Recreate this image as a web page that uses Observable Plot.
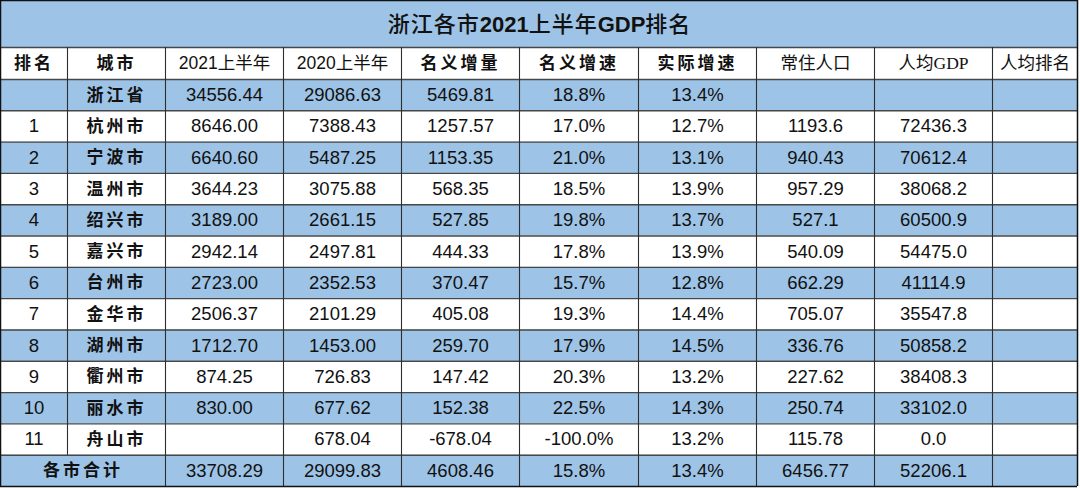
<!DOCTYPE html>
<html><head><meta charset="utf-8">
<script src="https://cdn.jsdelivr.net/npm/d3@7"></script>
<script src="https://cdn.jsdelivr.net/npm/@observablehq/plot@0.6"></script>
<style>body{margin:0;background:#fff;} #chart svg{display:block;}</style>
</head><body><div id="chart"></div>
<script>
// ---------- data ----------
const title = "浙江各市2021上半年GDP排名";
const titleParts = [["浙江各市", false], ["2021", true], ["上半年", false], ["GDP", true], ["排名", false]];
const headers = ["排名","城市","2021上半年","2020上半年","名义增量","名义增速","实际增速","常住人口","人均GDP","人均排名"];
const cities = ["杭州市","宁波市","温州市","绍兴市","嘉兴市","台州市","金华市","湖州市","衢州市","丽水市","舟山市"];
const gdp2021 = [8646.00, 6640.60, 3644.23, 3189.00, 2942.14, 2723.00, 2506.37, 1712.70, 874.25, 830.00, null];
const gdp2020 = [7388.43, 5487.25, 3075.88, 2661.15, 2497.81, 2352.53, 2101.29, 1453.00, 726.83, 677.62, 678.04];
const nominalIncrease = [1257.57, 1153.35, 568.35, 527.85, 444.33, 370.47, 405.08, 259.70, 147.42, 152.38, -678.04];
const nominalGrowth = [17.0, 21.0, 18.5, 19.8, 17.8, 15.7, 19.3, 17.9, 20.3, 22.5, -100.0];
const realGrowth = [12.7, 13.1, 13.9, 13.7, 13.9, 12.8, 14.4, 14.5, 13.2, 14.3, 13.2];
const population = [1193.6, 940.43, 957.29, 527.1, 540.09, 662.29, 705.07, 336.76, 227.62, 250.74, 115.78];
const gdpPerCapita = [72436.3, 70612.4, 38068.2, 60500.9, 54475.0, 41114.9, 35547.8, 50858.2, 38408.3, 33102.0, 0.0];
const provinceName = "浙江省";
const provinceValues = [34556.44, 29086.63, 5469.81, 18.8, 13.4, null, null];
const totalName = "各市合计";
const totalValues = [33708.29, 29099.83, 4608.46, 15.8, 13.4, 6456.77, 52206.1];

// ---------- layout (scales) ----------
const colIdx = d3.range(11);
const colEdges = [0, 67, 165, 283, 401, 519, 638, 756, 874, 992, 1077];
const rowIdx = [0, 1, 2, 15];
const rowEdges = [0, 47, 79, 486];
const xs = d3.scaleLinear(colIdx, colEdges);
const BLUE = "#9dc3e6";

const f2 = v => v == null ? "" : v.toFixed(2);
const f1 = v => v == null ? "" : v.toFixed(1);
const pct = v => v == null ? "" : v.toFixed(1) + "%";
const plain = v => v == null ? "" : String(v);
const fmts = [f2, f2, f2, pct, pct, plain, f1];

const cells = [];
const boldHdr = new Set(["排名","城市","名义增量","名义增速","实际增速"]);
const serifHdr = new Set(["常住人口","人均GDP","人均排名"]);
headers.forEach((h, i) => cells.push({col: i + 0.5, row: 1.5, text: h,
  kind: boldHdr.has(h) ? "cjk" : serifHdr.has(h) ? "serif" : "light"}));
// province row
cells.push({col: 1.5, row: 2.5, text: provinceName, kind: "cjk"});
provinceValues.forEach((v, j) => cells.push({col: j + 2.5, row: 2.5, text: fmts[j](v), kind: "num"}));
// cities
cities.forEach((c, i) => {
  const r = 3.5 + i;
  cells.push({col: 0.5, row: r, text: String(i + 1), kind: "num"});
  cells.push({col: 1.5, row: r, text: c, kind: "cjk"});
  const vals = [gdp2021[i], gdp2020[i], nominalIncrease[i], nominalGrowth[i], realGrowth[i], population[i], gdpPerCapita[i]];
  vals.forEach((v, j) => cells.push({col: j + 2.5, row: r, text: fmts[j](v), kind: "num"}));
});
// total row (merged first two columns)
const totalRow = 3.5 + cities.length;
cells.push({col: xs.invert((xs(0) + xs(2)) / 2), row: totalRow, text: totalName, kind: "cjk"});
totalValues.forEach((v, j) => cells.push({col: j + 2.5, row: totalRow, text: fmts[j](v), kind: "num"}));

// shaded rows: title, province row, and alternating rows
const shaded = [0, ...d3.range(2, 15, 2)];
// grid lines
const hLines = d3.range(1, 15);
const vLines = d3.range(1, 10).map(c => ({x: c, y1: 1, y2: c === 1 ? 14 : 15}));

const chart = Plot.plot({
  width: 1080, height: 488,
  marginTop: 0, marginRight: 0, marginBottom: 0, marginLeft: 0,
  x: {type: "linear", domain: colIdx, range: colEdges, axis: null},
  y: {type: "linear", domain: rowIdx, range: rowEdges, axis: null},
  style: {background: "#fff", overflow: "visible"},
  marks: [
    Plot.rect(shaded, {x1: 0, x2: 10, y1: d => d, y2: d => d + 1, fill: BLUE, inset: 0}),
    Plot.ruleY(hLines, {y: d => d, x1: 0, x2: 10, stroke: "#474747", strokeWidth: 1.4}),
    Plot.ruleX(vLines, {x: "x", y1: "y1", y2: "y2", stroke: "#2e2e2e", strokeWidth: 1.1}),
    Plot.ruleX([0, 10], {x: d => d, y1: 0, y2: 15, stroke: "#111", strokeWidth: 1.5}),
    Plot.ruleY([0, 15], {y: d => d, x1: 0, x2: 10, stroke: "#111", strokeWidth: 1.5}),
    Plot.text(cells.filter(d => d.kind === "num"), {x: "col", y: "row", text: "text",
      fontFamily: "'Liberation Sans', Arial, sans-serif", fontSize: 18.5, fill: "#111"}),
    Plot.text(cells.filter(d => d.kind === "cjk"), {x: "col", y: "row", text: "text",
      fontFamily: "'Noto Sans CJK SC', sans-serif", fontWeight: "bold", fontSize: 17, fill: "#111"}),
    Plot.text(cells.filter(d => d.kind === "light"), {x: "col", y: "row", text: "text",
      fontFamily: "'Liberation Sans', 'Noto Sans CJK SC', sans-serif", fontSize: 17.5, fill: "#111"}),
    Plot.text(cells.filter(d => d.kind === "serif"), {x: "col", y: "row", text: "text",
      fontFamily: "'Liberation Serif', 'Noto Sans CJK SC', serif", fontSize: 17.5, fill: "#111"}),
    Plot.text([title], {x: xs.invert(539), y: 0.52, text: d => d,
      fontFamily: "'Noto Sans CJK SC', sans-serif", fontSize: 22, fontWeight: 500, fill: "#111"})
  ]
});
document.getElementById("chart").appendChild(chart);

// letter spacing for bold CJK cells
d3.select(chart).selectAll("g[font-weight='bold']").attr("letter-spacing", "3px");
// title: mixed bold Latin / regular CJK segments
d3.select(chart).selectAll("text").filter(function () { return this.textContent === title; })
  .each(function () {
    const t = d3.select(this);
    t.text(null);
    titleParts.forEach(([s, b]) => {
      t.append("tspan").text(s)
        .attr("font-family", b ? "'Liberation Sans', Arial, sans-serif" : "'Noto Sans CJK SC', sans-serif")
        .attr("font-weight", b ? "bold" : 500)
        .attr("letter-spacing", b ? "0px" : "1px");
    });
  });
</script>
</body></html>
